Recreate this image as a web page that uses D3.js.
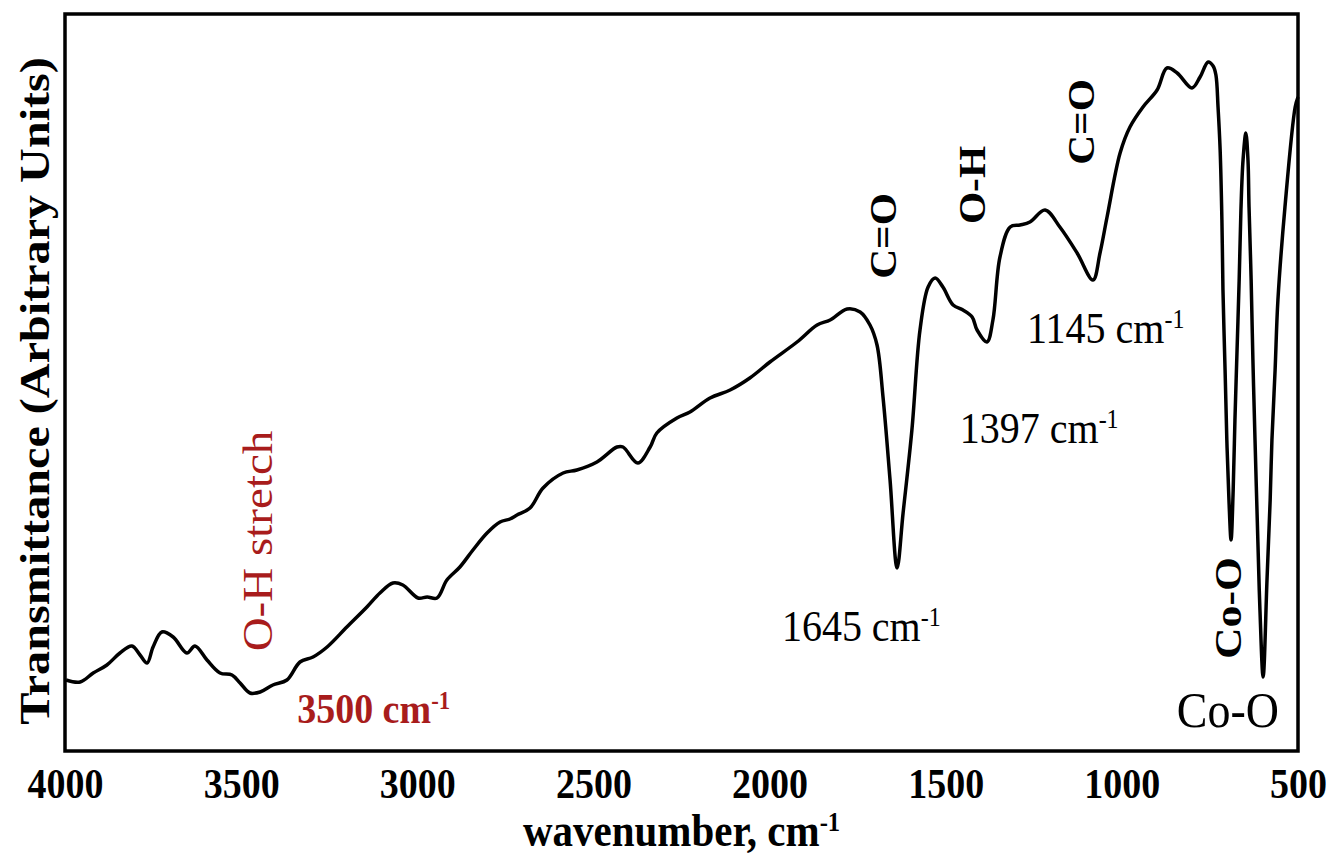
<!DOCTYPE html>
<html>
<head>
<meta charset="utf-8">
<script src="https://cdn.jsdelivr.net/npm/d3@7"></script>
<style>
  body { margin: 0; background: #fff; }
  svg text { font-family: "Liberation Serif", "Times New Roman", serif; }
</style>
</head>
<body>
<div id="chart"></div>
<script>
// FTIR spectrum, values (transmittance in arbitrary units)
const wavenumber = [
  3997, 3957, 3920, 3881, 3844, 3810, 3787, 3767, 3750, 3725,
  3693, 3654, 3631, 3597, 3560, 3526, 3503, 3475, 3446, 3410,
  3370, 3333, 3296, 3256, 3200, 3143, 3106, 3069, 3041, 2998,
  2972, 2944, 2916, 2879, 2842, 2802, 2765, 2737, 2717, 2680,
  2643, 2586, 2547, 2490, 2433, 2416, 2374, 2339, 2320, 2263,
  2226, 2169, 2112, 2056, 1999, 1922, 1865, 1828, 1780, 1743,
  1715, 1695, 1678, 1658, 1638, 1621, 1596, 1573, 1550, 1530,
  1508, 1479, 1451, 1425, 1411, 1383, 1366, 1346, 1317, 1289,
  1261, 1218, 1176, 1127, 1082, 1062, 1042, 1005, 977, 940,
  900, 872, 843, 801, 778, 755, 741, 733, 727, 721,
  716, 713, 707, 702, 696, 690, 684, 679, 673, 667,
  662, 656, 648, 642, 639, 633, 628, 622, 614, 608,
  599, 588, 579, 574, 565, 557, 537, 508, 500
];
const transmittance = [
  7.1, 6.9, 7.8, 8.6, 9.8, 10.5, 9.6, 8.8, 10.4, 11.9,
  11.4, 9.8, 10.5, 9.1, 7.8, 7.6, 6.8, 5.8, 5.9, 6.6,
  7.1, 8.9, 9.4, 10.4, 12.4, 14.4, 15.8, 16.8, 16.6, 15.3,
  15.4, 15.3, 17.1, 18.4, 20.1, 21.8, 22.9, 23.2, 23.6, 24.3,
  26.3, 27.8, 28.1, 28.9, 30.4, 30.4, 28.8, 30.4, 31.8, 33.3,
  33.9, 35.3, 36.1, 37.3, 38.9, 40.9, 42.6, 43.1, 44.2, 43.9,
  42.6, 40.6, 35.4, 27.1, 18.3, 23.8, 32.1, 42.1, 46.4, 47.3,
  46.4, 44.6, 44.1, 43.4, 42.1, 40.9, 43.1, 49.4, 52.4, 52.6,
  52.9, 54.1, 52.4, 49.8, 47.1, 49.8, 53.4, 59.8, 62.4, 64.4,
  66.1, 68.3, 67.8, 66.3, 67.4, 68.9, 68.5, 67.6, 64.4, 60.1,
  53.1, 46.1, 38.1, 31.1, 25.1, 21.1, 26.1, 33.1, 40.1, 47.1,
  54.1, 59.1, 61.8, 59.1, 54.4, 47.1, 39.1, 31.1, 21.1, 14.1,
  7.4, 17.1, 25.1, 31.1, 38.1, 45.1, 54.4, 64.4, 65.4
];
const xTicks = [4000, 3500, 3000, 2500, 2000, 1500, 1000, 500];

// vertical bond labels
const bondLabels = ["C=O", "O-H", "C=O", "Co-O"];
const bondWn = [1641, 1389, 1079, 662];
const bondT = [51.5, 56.6, 62.9, 14.3];

// peak position labels (cm-1)
const peakLabels = ["1645", "1397", "1145"];
const peakWn = [1965, 1460, 1269];
const peakT = [11.0, 30.8, 40.8];

const width = 1328;
const height = 863;
const plot = { left: 65, right: 1298, top: 14, bottom: 751 };
const stretch = 1.12; // text in the original is slightly tall

const svg = d3
  .select("#chart")
  .append("svg")
  .attr("width", width)
  .attr("height", height);

const x = d3.scaleLinear().domain([4000, 500]).range([plot.left, plot.right]);
const y = d3.scaleLinear().domain([0, 73.7]).range([plot.bottom, plot.top]);

function addText(px, py, opts) {
  const g = svg
    .append("g")
    .attr("transform", `translate(${px},${py}) scale(1,${stretch})`);
  const t = g
    .append("text")
    .attr("font-size", opts.size)
    .attr("font-weight", opts.bold ? "bold" : "normal")
    .attr("fill", opts.color || "#000")
    .attr("text-anchor", opts.anchor || "start");
  if (opts.rotate) t.attr("transform", "rotate(-90)");
  t.append("tspan").text(opts.text);
  if (opts.sup) {
    t.append("tspan")
      .attr("font-size", "60%")
      .attr("dy", "-0.55em")
      .text(opts.sup);
  }
  return t;
}

// x axis tick labels
svg
  .append("g")
  .attr("transform", `translate(0,${plot.bottom})`)
  .call(d3.axisBottom(x).tickValues(xTicks).tickSize(0).tickFormat(d3.format("d")))
  .call((g) => g.select(".domain").remove())
  .selectAll("text")
  .attr("font-size", 38)
  .attr("font-weight", "bold")
  .attr("fill", "#000")
  .attr("dy", null)
  .attr("y", 47 / stretch)
  .attr("transform", `scale(1,${stretch})`);

// spectrum
const line = d3
  .line()
  .x((d, i) => x(wavenumber[i]))
  .y((d, i) => y(transmittance[i]))
  .curve(d3.curveCatmullRom.alpha(0.5));

svg
  .append("path")
  .attr("d", line(wavenumber))
  .attr("fill", "none")
  .attr("stroke", "#000")
  .attr("stroke-width", 3.5)
  .attr("stroke-linejoin", "round");

// frame
svg
  .append("rect")
  .attr("x", plot.left)
  .attr("y", plot.top)
  .attr("width", plot.right - plot.left)
  .attr("height", plot.bottom - plot.top)
  .attr("fill", "none")
  .attr("stroke", "#000")
  .attr("stroke-width", 3.5);

// axis titles
addText((plot.left + plot.right) / 2, 846, {
  text: "wavenumber, cm",
  sup: "-1",
  size: 41,
  bold: true,
  anchor: "middle",
});
addText(49, 391, {
  text: "Transmittance (Arbitrary Units)",
  size: 43,
  bold: true,
  anchor: "middle",
  rotate: true,
});

// annotations
bondLabels.forEach((label, i) => {
  addText(x(bondWn[i]), y(bondT[i]), {
    text: label,
    size: i === 3 ? 39 : 37,
    bold: true,
    anchor: "middle",
    rotate: true,
  });
});

peakLabels.forEach((label, i) => {
  addText(x(peakWn[i]), y(peakT[i]), {
    text: `${label} cm`,
    sup: "-1",
    size: 40,
  });
});

addText(x(3412), y(21.0), {
  text: "O-H stretch",
  size: 42,
  color: "#a81c1c",
  anchor: "middle",
  rotate: true,
});
addText(x(3341), y(2.8), {
  text: "3500 cm",
  sup: "-1",
  size: 38,
  bold: true,
  color: "#a81c1c",
});
addText(x(699), y(2.4), {
  text: "Co-O",
  size: 46,
  anchor: "middle",
});
</script>
</body>
</html>
